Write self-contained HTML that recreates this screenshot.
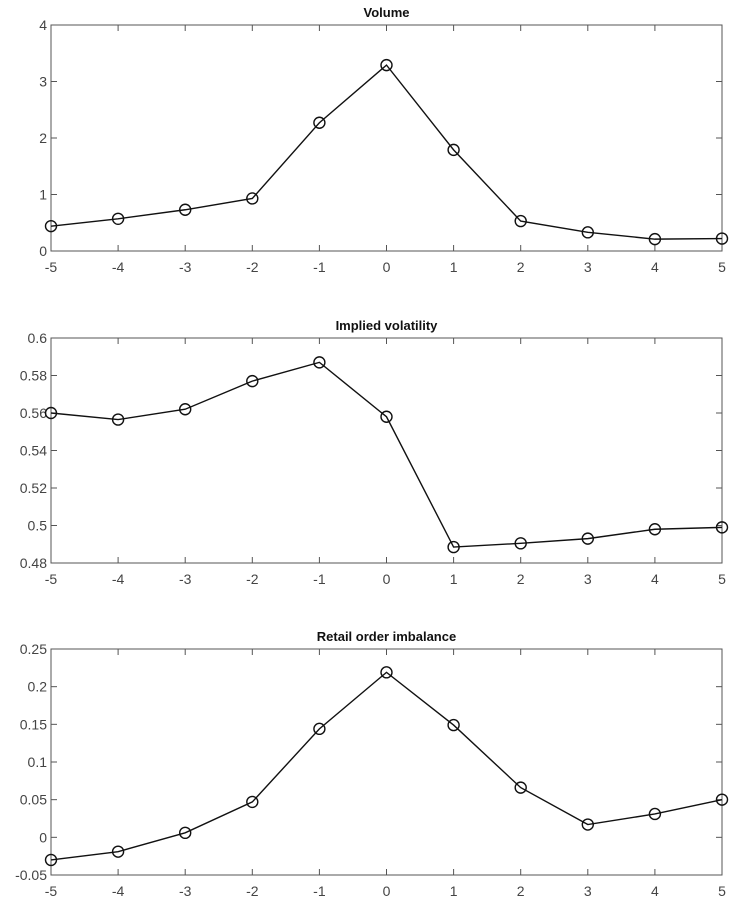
<!DOCTYPE html>
<html><head><meta charset="utf-8"><style>
body{margin:0;background:#fff;}
svg{display:block;font-family:"Liberation Sans",Helvetica,sans-serif;}
</style></head><body>
<svg id="chart" width="732" height="906"></svg>
<script>
const xCats=[-5,-4,-3,-2,-1,0,1,2,3,4,5];
const volumeVals=[0.44,0.57,0.73,0.93,2.27,3.29,1.79,0.53,0.33,0.21,0.22];
const ivVals=[0.560,0.5565,0.562,0.577,0.587,0.558,0.4885,0.4905,0.493,0.498,0.499];
const roiVals=[-0.030,-0.019,0.006,0.047,0.144,0.219,0.149,0.066,0.017,0.031,0.050];
const volumeTicks=["0","1","2","3","4"];
const ivTicks=["0.48","0.5","0.52","0.54","0.56","0.58","0.6"];
const roiTicks=["-0.05","0","0.05","0.1","0.15","0.2","0.25"];
const titles=["Volume","Implied volatility","Retail order imbalance"];

const NS="http://www.w3.org/2000/svg";
const svg=document.getElementById('chart');
function mk(tag,attrs,parent){const e=document.createElementNS(NS,tag);for(const k in attrs)e.setAttribute(k,attrs[k]);(parent||svg).appendChild(e);return e;}
const L=51,R=722;
const panels=[
 {top:25,bot:251,vals:volumeVals,ticks:volumeTicks,slug:'volume'},
 {top:338,bot:563,vals:ivVals,ticks:ivTicks,slug:'implied-volatility'},
 {top:649,bot:875,vals:roiVals,ticks:roiTicks,slug:'retail-order-imbalance'}
];
panels.forEach((p,pi)=>{
  const g=mk('g',{});
  
  
  const tv=p.ticks.map(Number);
  const ymin=tv[0],ymax=tv[tv.length-1];
  const xs=v=>L+(v-xCats[0])/(xCats[xCats.length-1]-xCats[0])*(R-L);
  const ys=v=>p.bot-(v-ymin)/(ymax-ymin)*(p.bot-p.top);
  const box=mk('rect',{x:L,y:p.top,width:R-L,height:p.bot-p.top,fill:'none',stroke:'#555','stroke-width':1},g);
  
  
  const t=mk('text',{x:(L+R)/2,y:p.top-8,'text-anchor':'middle','font-size':13,'font-weight':'bold',fill:'#111'},g);
  t.textContent=titles[pi];
  
  
  xCats.forEach(c=>{
    const x=xs(c);
    mk('line',{x1:x,x2:x,y1:p.bot,y2:p.bot-6,stroke:'#555'},g);
    mk('line',{x1:x,x2:x,y1:p.top,y2:p.top+6,stroke:'#555'},g);
    const lb=mk('text',{x:x,y:p.bot+21,'text-anchor':'middle','font-size':14,fill:'#444'},g);
    lb.textContent=c;
    
    
  });
  p.ticks.forEach(s=>{
    const y=ys(Number(s));
    mk('line',{x1:L,x2:L+6,y1:y,y2:y,stroke:'#555'},g);
    mk('line',{x1:R,x2:R-6,y1:y,y2:y,stroke:'#555'},g);
    const lb=mk('text',{x:L-4,y:y+5,'text-anchor':'end','font-size':14,fill:'#444'},g);
    lb.textContent=s;
    
    
  });
  const pts=p.vals.map((v,i)=>xs(xCats[i])+','+ys(v)).join(' ');
  const line=mk('polyline',{points:pts,fill:'none',stroke:'#111','stroke-width':1.4},g);
  
  
  p.vals.forEach((v,i)=>{
    const c=mk('circle',{cx:xs(xCats[i]),cy:ys(v),r:5.5,fill:'none',stroke:'#111','stroke-width':1.4},g);
    
    
  });
});
</script>
</body></html>
